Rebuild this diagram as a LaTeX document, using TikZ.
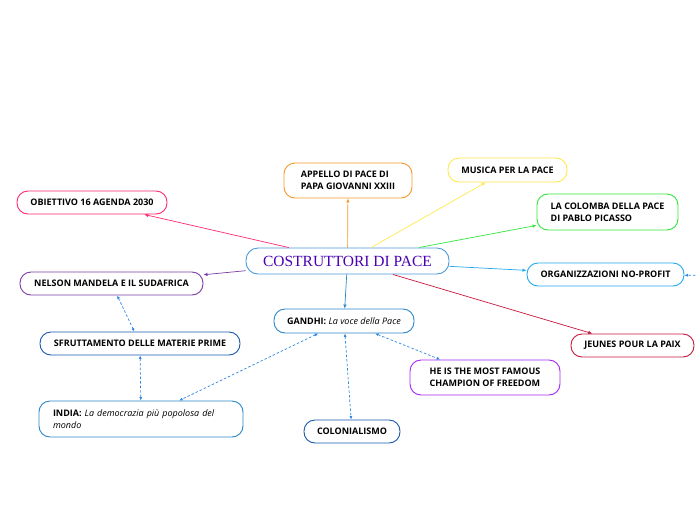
\documentclass[tikz,border=0pt]{standalone}
\usepackage{fontspec}
\setmainfont{Open Sans}
\newfontfamily\titlefont{Liberation Serif}
\usepackage{tikz}
\usetikzlibrary{arrows.meta}
\definecolor{CPCentre}{HTML}{4A9BDC}
\definecolor{CPTitle}{HTML}{4A00B4}
\definecolor{CPPink}{HTML}{FF2A6D}
\definecolor{CPOrange}{HTML}{F39A2B}
\definecolor{CPYellow}{HTML}{FFE84A}
\definecolor{CPGreen}{HTML}{33E63B}
\definecolor{CPSky}{HTML}{22A8EE}
\definecolor{CPCrimson}{HTML}{C8183C}
\definecolor{CPViolet}{HTML}{A526F5}
\definecolor{CPNavy}{HTML}{1858B0}
\definecolor{CPBlue}{HTML}{2C86C8}
\definecolor{CPPurple}{HTML}{7A3DA6}
\definecolor{CPDash}{HTML}{2D86E6}
\tikzset{
  topic/.style={draw,rounded corners=11pt,line width=0.9pt,fill=white,inner sep=0pt,align=left,
    font=\fontsize{9}{12}\selectfont\bfseries},
  link/.style={line width=0.7pt,-{Latex[length=4pt,width=3.5pt]}},
  crosslink/.style={CPDash,line width=0.7pt,dash pattern=on 2.5pt off 2pt,
    {Latex[length=3.5pt,width=3pt]}-{Latex[length=3.5pt,width=3pt]}}
}

\begin{document}
\begin{tikzpicture}[x=1pt,y=-1pt]
\fill[white] (0,0) rectangle (696,520);
\path[use as bounding box] (0,0) rectangle (696,520);
% centre
\node[topic,draw=CPCentre,rounded corners=12pt,minimum width=203pt,minimum height=26pt,
  font=\titlefont\fontsize{15.5}{17}\selectfont,text=CPTitle] (centre) at (347.5,261) {COSTRUTTORI DI PACE};
% main topics
\node[topic,draw=CPPink,minimum width=150pt,minimum height=23pt] (agenda) at (92,202.5) {OBIETTIVO 16 AGENDA 2030};
\node[topic,draw=CPOrange,minimum width=128pt,minimum height=35pt] (appello) at (348,180.5) {APPELLO DI PACE DI\\PAPA GIOVANNI XXIII};
\node[topic,draw=CPYellow,minimum width=119pt,minimum height=24pt] (musica) at (507.5,170) {MUSICA PER LA PACE};
\node[topic,draw=CPGreen,minimum width=141pt,minimum height=36pt] (colomba) at (607.5,212) {LA COLOMBA DELLA PACE\\DI PABLO PICASSO};
\node[topic,draw=CPSky,minimum width=157pt,minimum height=23pt] (noprofit) at (605.5,274.5) {ORGANIZZAZIONI NO-PROFIT};
\node[topic,draw=CPCrimson,minimum width=123pt,minimum height=23pt] (jeunes) at (632.5,345.5) {JEUNES POUR LA PAIX};
\node[topic,draw=CPPurple,minimum width=183pt,minimum height=23pt] (mandela) at (111.5,283.5) {NELSON MANDELA E IL SUDAFRICA};
\node[topic,draw=CPBlue,minimum width=140pt,minimum height=24pt] (gandhi) at (344,321) {GANDHI: \textmd{\textit{La voce della Pace}}};
% gandhi topics
\node[topic,draw=CPNavy,minimum width=200pt,minimum height=23pt] (materie) at (140,343.5) {SFRUTTAMENTO DELLE MATERIE PRIME};
\node[topic,draw=CPBlue,text width=176pt,inner xsep=14pt,minimum height=36pt] (india) at (141,419) {INDIA: \textmd{\textit{La democrazia più popolosa del}}\\\textmd{\textit{mondo}}};
\node[topic,draw=CPViolet,minimum width=150pt,minimum height=35pt] (freedom) at (485,377.5) {HE IS THE MOST FAMOUS\\CHAMPION OF FREEDOM};
\node[topic,draw=CPNavy,minimum width=96pt,minimum height=23pt] (colonial) at (352,431.5) {COLONIALISMO};
\coordinate (offright) at (712,275.5);
% links
\draw[link,CPPink] (centre) -- (agenda);
\draw[link,CPOrange] (centre) -- (appello);
\draw[link,CPYellow] (centre) -- (musica);
\draw[link,CPGreen] (centre) -- (colomba);
\draw[link,CPSky] (centre) -- (noprofit);
\draw[link,CPCrimson] (centre) -- (jeunes);
\draw[link,CPPurple] (centre) -- (mandela);
\draw[link,CPBlue] (centre) -- (gandhi);
% dashed relations
\draw[crosslink] (mandela) -- (materie);
\draw[crosslink] (materie) -- (india);
\draw[crosslink] (gandhi) -- (india);
\draw[crosslink] (gandhi) -- (colonial);
\draw[crosslink] (gandhi) -- (freedom);
\draw[crosslink] (offright) -- (noprofit);
\end{tikzpicture}
\end{document}
